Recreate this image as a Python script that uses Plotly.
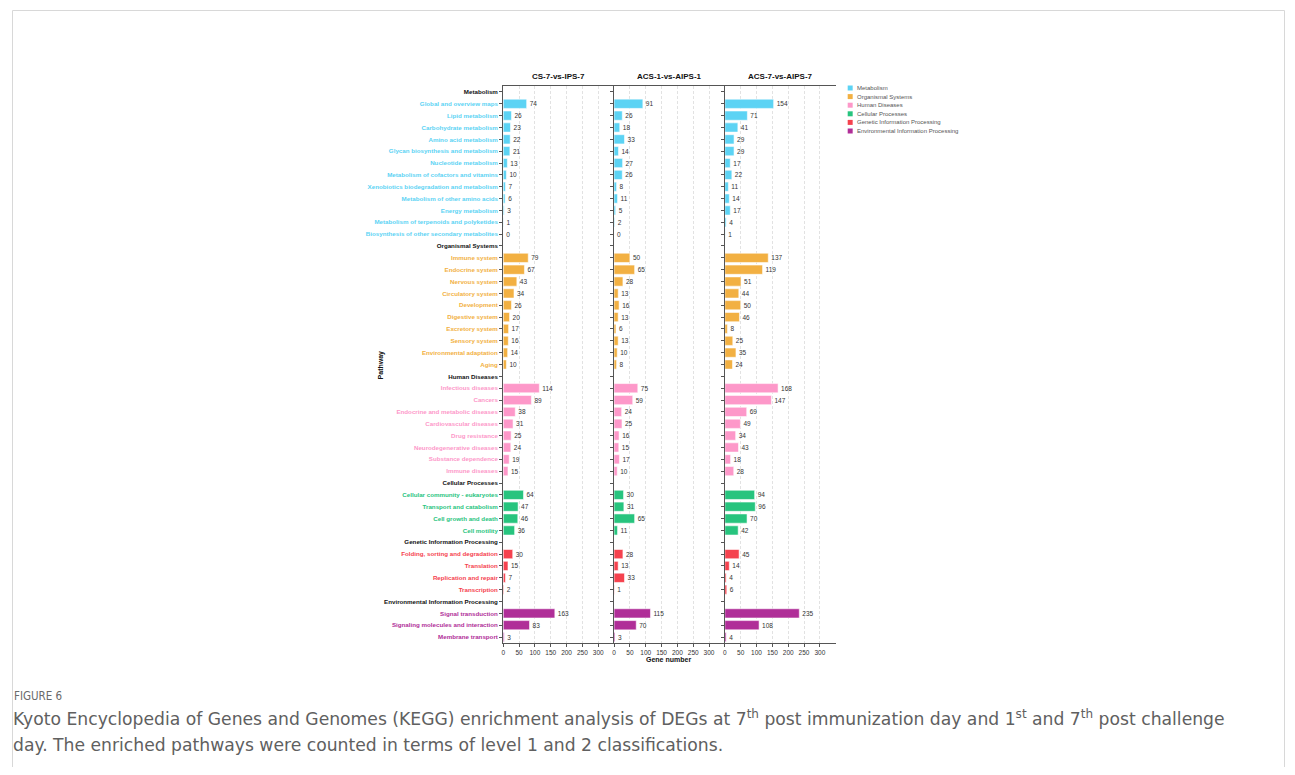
import plotly.graph_objects as go
from plotly.subplots import make_subplots

W, H = 1295, 775
OFF = 8  # page body margin
FW, FH = W - 2 * OFF, H - 2 * OFF

panels = ["CS-7-vs-IPS-7", "ACS-1-vs-AIPS-1", "ACS-7-vs-AIPS-7"]

groups = ["Metabolism", "Organismal Systems", "Human Diseases", "Cellular Processes",
          "Genetic Information Processing", "Environmental Information Processing"]
group_colors = ["#5CD3F4", "#F2B042", "#FD98C9", "#27C47E", "#F5424E", "#B02E98"]

metabolism_paths = ["Global and overview maps", "Lipid metabolism", "Carbohydrate metabolism",
                    "Amino acid metabolism", "Glycan biosynthesis and metabolism", "Nucleotide metabolism",
                    "Metabolism of cofactors and vitamins", "Xenobiotics biodegradation and metabolism",
                    "Metabolism of other amino acids", "Energy metabolism",
                    "Metabolism of terpenoids and polyketides", "Biosynthesis of other secondary metabolites"]
metabolism_vals = [[74, 26, 23, 22, 21, 13, 10, 7, 6, 3, 1, 0],
                   [91, 26, 18, 33, 14, 27, 26, 8, 11, 5, 2, 0],
                   [154, 71, 41, 29, 29, 17, 22, 11, 14, 17, 4, 1]]

organismal_paths = ["Immune system", "Endocrine system", "Nervous system", "Circulatory system",
                    "Development", "Digestive system", "Excretory system", "Sensory system",
                    "Environmental adaptation", "Aging"]
organismal_vals = [[79, 67, 43, 34, 26, 20, 17, 16, 14, 10],
                   [50, 65, 28, 13, 16, 13, 6, 13, 10, 8],
                   [137, 119, 51, 44, 50, 46, 8, 25, 35, 24]]

disease_paths = ["Infectious diseases", "Cancers", "Endocrine and metabolic diseases",
                 "Cardiovascular diseases", "Drug resistance", "Neurodegenerative diseases",
                 "Substance dependence", "Immune diseases"]
disease_vals = [[114, 89, 38, 31, 25, 24, 19, 15],
                [75, 59, 24, 25, 16, 15, 17, 10],
                [168, 147, 69, 49, 34, 43, 18, 28]]

cellular_paths = ["Cellular community - eukaryotes", "Transport and catabolism",
                  "Cell growth and death", "Cell motility"]
cellular_vals = [[64, 47, 46, 36],
                 [30, 31, 65, 11],
                 [94, 96, 70, 42]]

genetic_paths = ["Folding, sorting and degradation", "Translation", "Replication and repair", "Transcription"]
genetic_vals = [[30, 15, 7, 2],
                [28, 13, 33, 1],
                [45, 14, 4, 6]]

environmental_paths = ["Signal transduction", "Signaling molecules and interaction", "Membrane transport"]
environmental_vals = [[163, 83, 3],
                      [115, 70, 3],
                      [235, 108, 4]]

group_paths = [metabolism_paths, organismal_paths, disease_paths, cellular_paths,
               genetic_paths, environmental_paths]
group_vals = [metabolism_vals, organismal_vals, disease_vals, cellular_vals,
              genetic_vals, environmental_vals]

xticks = [0, 50, 100, 150, 200, 250, 300]


def px(x):
    return (x - OFF) / FW


def py(y):
    return 1 - (y - OFF) / FH


tickvals, ticktext = [], []
group_rows = []
row = 0
for g, col, paths in zip(groups, group_colors, group_paths):
    tickvals.append(row)
    ticktext.append(f"<b>{g}</b>")
    row += 1
    rows = []
    for p in paths:
        tickvals.append(row)
        ticktext.append(f"<b><span style='color:{col}'>{p}</span></b>")
        rows.append(row)
        row += 1
    group_rows.append(rows)
nrows = row

fig = make_subplots(rows=1, cols=3, shared_yaxes=True, horizontal_spacing=0)

for pi in range(3):
    for gi, g in enumerate(groups):
        vals = group_vals[gi][pi]
        fig.add_trace(go.Bar(
            x=vals, y=group_rows[gi], orientation="h",
            marker=dict(color=group_colors[gi], line=dict(color="rgba(255,255,255,0.55)", width=1)),
            text=[str(v) for v in vals], textposition="outside",
            textfont=dict(size=6.5, color="#333333", family="Liberation Sans"),
            cliponaxis=False, showlegend=False, name=g, width=0.78,
        ), row=1, col=pi + 1)

x_doms = [(502, 613), (613, 724), (724, 835)]
for pi in range(3):
    ax = "xaxis" if pi == 0 else f"xaxis{pi + 1}"
    yax = "yaxis" if pi == 0 else f"yaxis{pi + 1}"
    fig.layout[ax].update(
        domain=[px(x_doms[pi][0]), px(x_doms[pi][1])], range=[0, 350],
        tickvals=xticks, ticktext=[str(t) for t in xticks],
        showgrid=True, gridcolor="#e2e2e2", griddash="3px,2px", gridwidth=0.8,
        showline=True, linecolor="#555555", linewidth=1, mirror=True,
        ticks="outside", ticklen=3, tickcolor="#555555",
        tickfont=dict(size=6.5, color="#333333", family="Liberation Sans"),
        zeroline=False,
    )
    yupd = dict(
        domain=[py(643), py(86)], range=[nrows - 0.5, -0.5],
        tickmode="array", tickvals=tickvals,
        showticklabels=(pi == 0),
        showline=True, linecolor="#555555", linewidth=1.2,
        ticks="outside", ticklen=3, tickcolor="#555555", showgrid=False, zeroline=False,
        tickfont=dict(size=6.2, color="#111111", family="Liberation Sans"),
    )
    if pi == 0:
        yupd["ticktext"] = ticktext
    fig.layout[yax].update(**yupd)

annotations = []
for pi, t in enumerate(panels):
    cx = (x_doms[pi][0] + x_doms[pi][1]) / 2
    annotations.append(dict(x=px(cx), y=py(83), xref="paper", yref="paper", text=f"<b>{t}</b>",
                            yanchor="bottom", showarrow=False,
                            font=dict(size=8, color="#111111", family="Liberation Sans")))
annotations.append(dict(x=px(668), y=py(665), xref="paper", yref="paper", text="<b>Gene number</b>",
                        showarrow=False, font=dict(size=7, color="#111111", family="Liberation Sans")))
annotations.append(dict(x=px(374), y=py(365), xref="paper", yref="paper", text="<b>Pathway</b>",
                        textangle=-90, showarrow=False,
                        font=dict(size=7, color="#111111", family="Liberation Sans")))

shapes = []
for gi, g in enumerate(groups):
    yc = 88 + gi * 8.6
    shapes.append(dict(type="rect", xref="paper", yref="paper",
                       x0=px(847), x1=px(852), y0=py(yc + 2.5), y1=py(yc - 2.5),
                       fillcolor=group_colors[gi], line=dict(width=0)))
    annotations.append(dict(x=px(854), y=py(yc), xref="paper", yref="paper", text=g,
                            xanchor="left", yanchor="middle", showarrow=False,
                            font=dict(size=6, color="#555555", family="Liberation Sans")))

shapes.append(dict(type="rect", xref="paper", yref="paper", x0=px(10.5), x1=px(1284.5),
                   y0=py(800), y1=py(10.5), line=dict(color="#d8d8d8", width=1)))

annotations.append(dict(x=px(10), y=py(696), xref="paper", yref="paper", text="FIGURE 6",
                        xanchor="left", yanchor="middle", showarrow=False,
                        font=dict(size=11.5, color="#6a6a6a", family="DejaVu Sans Condensed")))
cap_font = "DejaVu Sans"
annotations.append(dict(x=px(9), y=py(718), xref="paper", yref="paper",
                        text="Kyoto Encyclopedia of Genes and Genomes (KEGG) enrichment analysis of DEGs at 7<sup>th</sup> post immunization day and 1<sup>st</sup> and 7<sup>th</sup> post challenge",
                        xanchor="left", yanchor="middle", showarrow=False,
                        font=dict(size=17.2, color="#606060", family=cap_font)))
annotations.append(dict(x=px(9), y=py(745), xref="paper", yref="paper",
                        text="day. The enriched pathways were counted in terms of level 1 and 2 classifications.",
                        xanchor="left", yanchor="middle", showarrow=False,
                        font=dict(size=17.2, color="#606060", family=cap_font)))

fig.update_layout(
    width=FW, height=FH, margin=dict(l=0, r=0, t=0, b=0),
    paper_bgcolor="white", plot_bgcolor="white",
    annotations=annotations, shapes=shapes, bargap=0.22,
    showlegend=False,
)

fig.write_html("out.html")
